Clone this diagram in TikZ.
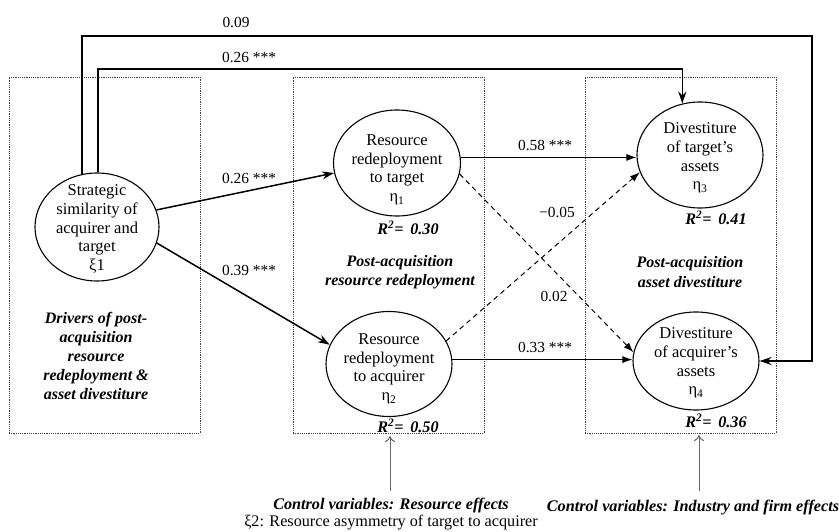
\documentclass[tikz,border=0pt]{standalone}
\usepackage{fontspec}
\setmainfont{Liberation Serif}
\usetikzlibrary{shapes.geometric,arrows.meta,calc}
\begin{document}
\begin{tikzpicture}[x=1pt,y=-1pt,
  latent/.style={ellipse,draw,line width=1.1pt,inner sep=0pt},
  ltext/.style={align=center,inner sep=0pt,font=\fontsize{16.5}{18.7}\selectfont},
  panel/.style={draw=black!75,line width=0.9pt,dash pattern=on 1.2pt off 1pt,inner sep=0pt},
  coef/.style={inner sep=1pt,font=\fontsize{15.4}{17}\selectfont},
  rsq/.style={inner sep=1pt,font=\fontsize{16.2}{17}\selectfont\bfseries\itshape},
  caption/.style={align=center,inner sep=0pt,font=\fontsize{16}{19.2}\selectfont\bfseries\itshape},
  strong/.style={line width=1.5pt,-{Stealth[length=12pt,width=8pt]}},
  effect/.style={line width=1pt,-{Latex[length=10pt,width=7pt]}},
  weak/.style={effect,dash pattern=on 5pt off 4pt},
  ctrl/.style={draw=black!60,line width=1pt,-{To[length=6pt,width=10pt]}},
]
\useasboundingbox (0,0) rectangle (839,532);

% dotted panels
\node[panel,minimum width=191pt,minimum height=356pt] (drivers) at (104.5,255) {};
\node[panel,minimum width=191pt,minimum height=356pt] (redeploy) at (388.5,255) {};
\node[panel,minimum width=191pt,minimum height=356pt] (divest) at (680.5,255) {};

% latent constructs
\node[latent,minimum width=124pt,minimum height=108pt] (xi1) at (97,227) {};
\node[ltext] (xi1t) at (97,229) {Strategic\\similarity of\\acquirer and\\target\\ξ1};
\node[latent,minimum width=127pt,minimum height=106pt] (eta1) at (397,163) {};
\node[ltext] (eta1t) at (397,170) {Resource\\redeployment\\to target\\η\textsubscript{1}};
\node[latent,minimum width=126pt,minimum height=105pt] (eta2) at (389,364) {};
\node[ltext] (eta2t) at (389,369) {Resource\\redeployment\\to acquirer\\η\textsubscript{2}};
\node[latent,minimum width=126pt,minimum height=106pt] (eta3) at (700,155) {};
\node[ltext] (eta3t) at (700,158) {Divestiture\\of target’s\\assets\\η\textsubscript{3}};
\node[latent,minimum width=126pt,minimum height=98pt] (eta4) at (696,361) {};
\node[ltext] (eta4t) at (696,363) {Divestiture\\of acquirer’s\\assets\\η\textsubscript{4}};

% explained variance
\node[rsq] (r2a) at (408,228) {R\textsuperscript{2}= \,0.30};
\node[rsq] (r2b) at (408,426) {R\textsuperscript{2}= \,0.50};
\node[rsq] (r2c) at (716,218) {R\textsuperscript{2}= \,0.41};
\node[rsq] (r2d) at (716,421) {R\textsuperscript{2}= \,0.36};

% panel captions
\node[caption] (capL) at (96,356) {Drivers of post-\\acquisition\\resource\\redeployment \&\\asset divestiture};
\node[caption] (capM) at (400,272) {Post-acquisition\\resource redeployment};
\node[caption] (capR) at (690,272) {Post-acquisition\\asset divestiture};

% direct paths over the top
\coordinate (topA) at (812,36);
\coordinate (topB) at (eta3.109 |- 0,69);
\draw[strong] (xi1.106) |- (topA) |- (eta4.east);
\draw[strong] (xi1.89) |- (topB) -- (eta3.109);
\node[coef] (c09) at (236,22) {0.09};
\node[coef] (c26top) at (249,57) {0.26 ***};

% paths from strategic similarity
\draw[strong] (xi1.16) -- (eta1.189);
\draw[strong] (xi1.-15) -- (eta2.162);
\node[coef] (c26) at (249,178) {0.26 ***};
\node[coef] (c39) at (249,270) {0.39 ***};

% paths from redeployment to divestiture
\draw[effect] (eta1.5) -- (eta1.5 -| eta3.west);
\draw[effect] (eta2.4) -- (eta2.4 -| eta4.west);
\draw[weak] (eta1.-10) -- (eta4.172);
\draw[weak] (eta2.22) -- (eta3.196);
\node[coef] (c58) at (545,145) {0.58 ***};
\node[coef] (c05) at (557,212) {−0.05};
\node[coef] (c02) at (554,296) {0.02};
\node[coef] (c33) at (545,347) {0.33 ***};

% control variables
\node[align=center,inner sep=0pt,font=\fontsize{16.2}{17}\selectfont] (ctlA) at (391,514)
  {\textbf{\textit{Control variables: Resource effects}}\\ξ2: Resource asymmetry of target to acquirer};
\node[inner sep=0pt,font=\fontsize{16.2}{17}\selectfont\bfseries\itshape] (ctlB) at (693,508)
  {Control variables: Industry and firm effects};
\coordinate (tipA) at (390,436);
\coordinate (tipB) at (699,435);
\draw[ctrl,shorten <=7pt] (ctlA.north -| tipA) -- (tipA);
\draw[ctrl,shorten <=9pt] (ctlB.north -| tipB) -- (tipB);
\end{tikzpicture}
\end{document}
